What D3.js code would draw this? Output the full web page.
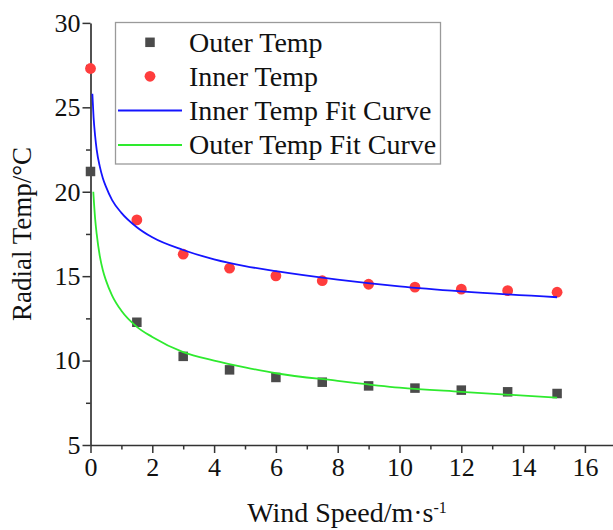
<!DOCTYPE html>
<html>
<head>
<meta charset="utf-8">
<script src="https://cdn.jsdelivr.net/npm/d3@7"></script>
<style>
  html, body { margin: 0; padding: 0; background: #fff; }
  svg { display: block; }
  text { font-family: "Liberation Serif", "Times New Roman", serif; fill: #111; }
</style>
</head>
<body>
<svg id="chart" width="613" height="530"></svg>
<script>
// Measured radial temperatures versus wind speed
const windSpeed = [0, 1.5, 3, 4.5, 6, 7.5, 9, 10.5, 12, 13.5, 15.1];
const outerTemp = [21.2, 12.27, 10.25, 9.45, 9.0, 8.72, 8.5, 8.37, 8.25, 8.15, 8.05];
const innerTemp = [27.3, 18.33, 16.3, 15.47, 15.02, 14.73, 14.52, 14.35, 14.23, 14.14, 14.05];

// Fitted curves, sampled along wind speed
const innerFitX = [0.06, 0.1, 0.15, 0.2, 0.3, 0.4, 0.5, 0.7, 1, 1.5, 2, 3, 4, 5, 6, 8, 10, 12, 15.1];
const innerFitY = [25.8, 24.4, 23.3, 22.5, 21.5, 20.8, 20.3, 19.5, 18.75, 17.9, 17.3, 16.55, 16.0, 15.6, 15.3, 14.8, 14.4, 14.1, 13.75];
const outerFitX = [0.09, 0.15, 0.2, 0.3, 0.4, 0.5, 0.7, 1, 1.5, 2, 3, 4, 5, 6, 8, 10, 12, 15.1];
const outerFitY = [20.0, 18.4, 17.5, 16.2, 15.35, 14.75, 13.85, 12.95, 12.0, 11.4, 10.5, 10.0, 9.6, 9.25, 8.8, 8.4, 8.15, 7.8];

const xTicks = [0, 2, 4, 6, 8, 10, 12, 14, 16];
const xMinorTicks = [1, 3, 5, 7, 9, 11, 13, 15, 17];
const yTicks = [5, 10, 15, 20, 25, 30];
const yMinorTicks = [7.5, 12.5, 17.5, 22.5, 27.5];

const legendLabels = ["Outer Temp", "Inner Temp", "Inner Temp Fit Curve", "Outer Temp Fit Curve"];

const C = {
  axis: "#333",
  square: "#4b4b4b",
  circle: "#ff3d3d",
  blue: "#1414ff",
  green: "#2eea2e",
  legendBorder: "#9a9a9a"
};

const svg = d3.select("#chart");
const x = d3.scaleLinear().domain([0, 17]).range([90.5, 615.8]);
const y = d3.scaleLinear().domain([5, 30]).range([445, 22.9]);

// Axes
const axisG = svg.append("g");
function styleAxis(g) {
  g.select(".domain").attr("stroke", C.axis).attr("stroke-width", 1.7);
  g.selectAll(".tick line").attr("stroke", C.axis).attr("stroke-width", 1.5);
  g.selectAll(".tick text").style("font-family", '"Liberation Serif", serif').style("font-size", "26px").attr("fill", "#111");
}

const xAxis = axisG.append("g").attr("transform", `translate(0,${y(5)})`)
  .call(d3.axisBottom(x).tickValues(xTicks).tickSize(8).tickSizeOuter(0).tickPadding(5).tickFormat(d3.format("d")));
styleAxis(xAxis);
xAxis.selectAll(".tick text").attr("dy", "0.71em");
axisG.append("g").attr("transform", `translate(0,${y(5)})`)
  .call(d3.axisBottom(x).tickValues(xMinorTicks).tickSize(4.5).tickSizeOuter(0).tickFormat(""))
  .call(g => { g.select(".domain").remove(); g.selectAll(".tick line").attr("stroke", C.axis).attr("stroke-width", 1.5); });

const yAxis = axisG.append("g").attr("transform", `translate(${x(0)},0)`)
  .call(d3.axisLeft(y).tickValues(yTicks).tickSize(8).tickSizeOuter(0).tickPadding(2).tickFormat(d3.format("d")));
styleAxis(yAxis);
axisG.append("g").attr("transform", `translate(${x(0)},0)`)
  .call(d3.axisLeft(y).tickValues(yMinorTicks).tickSize(4.5).tickSizeOuter(0).tickFormat(""))
  .call(g => { g.select(".domain").remove(); g.selectAll(".tick line").attr("stroke", C.axis).attr("stroke-width", 1.5); });

// Axis titles
const xTitle = svg.append("text")
  .attr("x", 347).attr("y", 522)
  .attr("text-anchor", "middle")
  .style("font-size", "28px");
xTitle.append("tspan").text("Wind Speed/m·s");
xTitle.append("tspan").attr("dy", "-0.55em").style("font-size", "16px").text("-1");

svg.append("text")
  .attr("transform", `translate(31,${(y(5) + y(30)) / 2}) rotate(-90)`)
  .attr("text-anchor", "middle")
  .style("font-size", "27px")
  .text("Radial Temp/°C");

// Data points
svg.append("g").selectAll("rect")
  .data(windSpeed.map((w, i) => [w, outerTemp[i]]))
  .join("rect")
  .attr("x", d => x(d[0]) - 4.75).attr("y", d => y(d[1]) - 4.75)
  .attr("width", 9.5).attr("height", 9.5)
  .attr("fill", C.square);

svg.append("g").selectAll("circle")
  .data(windSpeed.map((w, i) => [w, innerTemp[i]]))
  .join("circle")
  .attr("cx", d => x(d[0])).attr("cy", d => y(d[1]))
  .attr("r", 5.4)
  .attr("fill", C.circle);

// Fit curves
const line = d3.line().x(d => x(d[0])).y(d => y(d[1])).curve(d3.curveMonotoneX);
svg.append("path")
  .datum(innerFitX.map((v, i) => [v, innerFitY[i]]))
  .attr("d", line).attr("fill", "none").attr("stroke", C.blue).attr("stroke-width", 1.8);
svg.append("path")
  .datum(outerFitX.map((v, i) => [v, outerFitY[i]]))
  .attr("d", line).attr("fill", "none").attr("stroke", C.green).attr("stroke-width", 1.8);

// Legend
const legend = svg.append("g");
legend.append("rect")
  .attr("x", 115.5).attr("y", 22.5).attr("width", 325).attr("height", 141.5)
  .attr("fill", "#fff").attr("stroke", C.legendBorder).attr("stroke-width", 1.3);
const rowY = [42.3, 76.3, 110.5, 145];
legend.append("rect").attr("x", 150 - 4.75).attr("y", rowY[0] - 4.75).attr("width", 9.5).attr("height", 9.5).attr("fill", C.square);
legend.append("circle").attr("cx", 150).attr("cy", rowY[1]).attr("r", 5.4).attr("fill", C.circle);
legend.append("line").attr("x1", 118).attr("x2", 182).attr("y1", rowY[2]).attr("y2", rowY[2]).attr("stroke", C.blue).attr("stroke-width", 1.8);
legend.append("line").attr("x1", 118).attr("x2", 182).attr("y1", rowY[3]).attr("y2", rowY[3]).attr("stroke", C.green).attr("stroke-width", 1.8);
legend.selectAll("text.lbl").data(legendLabels).join("text")
  .attr("class", "lbl")
  .attr("x", 189).attr("y", (d, i) => rowY[i] + 9.4)
  .style("font-size", "28px")
  .text(d => d);
</script>
</body>
</html>
